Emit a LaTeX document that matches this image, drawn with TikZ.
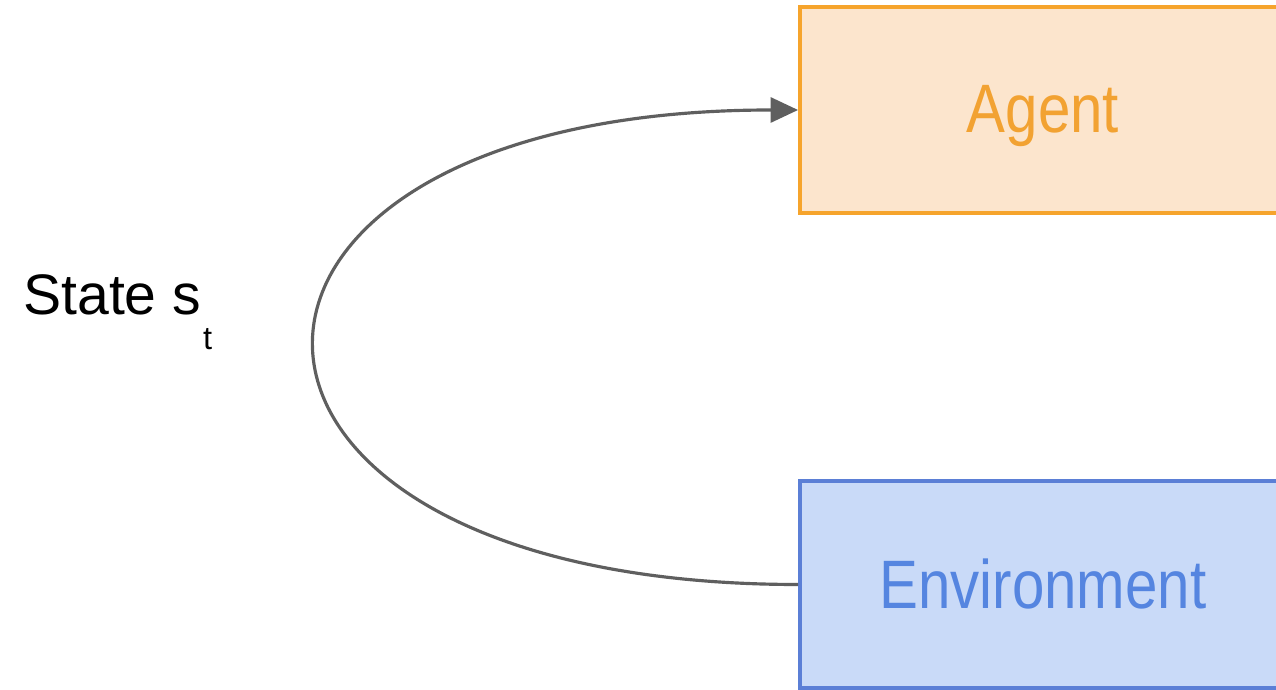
\documentclass[tikz,border=0pt]{standalone}
\usepackage{fontspec}
\setmainfont{Liberation Sans}
\usetikzlibrary{arrows.meta}
\definecolor{agentfill}{HTML}{FCE5CD}
\definecolor{agentline}{HTML}{F6A42C}
\definecolor{agenttext}{HTML}{F2A232}
\definecolor{envfill}{HTML}{C9DAF8}
\definecolor{envline}{HTML}{5B7FD6}
\definecolor{envtext}{HTML}{5585E0}
\definecolor{loopgray}{HTML}{5F5F5F}
\newcommand{\boxtext}[1]{\scalebox{0.85}[1]{\fontsize{39}{44}\selectfont #1}}
\tikzset{
  agentbox/.style={draw=agentline, fill=agentfill, text=agenttext, line width=2.2pt,
    minimum width=9.72cm, minimum height=4.12cm, text height=1.2cm},
  envbox/.style={draw=envline, fill=envfill, text=envtext, line width=2.2pt,
    minimum width=9.72cm, minimum height=4.14cm},
  loop/.style={draw=loopgray, line width=1.8pt, -{Triangle[length=0.55cm,width=0.5cm]}}
}
\begin{document}
\begin{tikzpicture}
 \clip (0,0) rectangle (25.52,13.8);
 \fill[white] (0,0) rectangle (25.52,13.8);

 \node[agentbox] (agent) at (20.86,11.6) {\boxtext{Agent}};
 \node[envbox] (env) at (20.86,2.11) {\boxtext{Environment}};
 \node[anchor=base west, inner sep=0pt] (state) at (0.46,7.5)
   {\fontsize{32.5}{38}\selectfont State s\hspace{0.04cm}\raisebox{-0.7cm}{\fontsize{18.5}{20}\selectfont t}};

 \draw[loop] (env.west) .. controls (3.1,2.11) and (3.1,11.6) .. (agent.west);
\end{tikzpicture}
\end{document}
